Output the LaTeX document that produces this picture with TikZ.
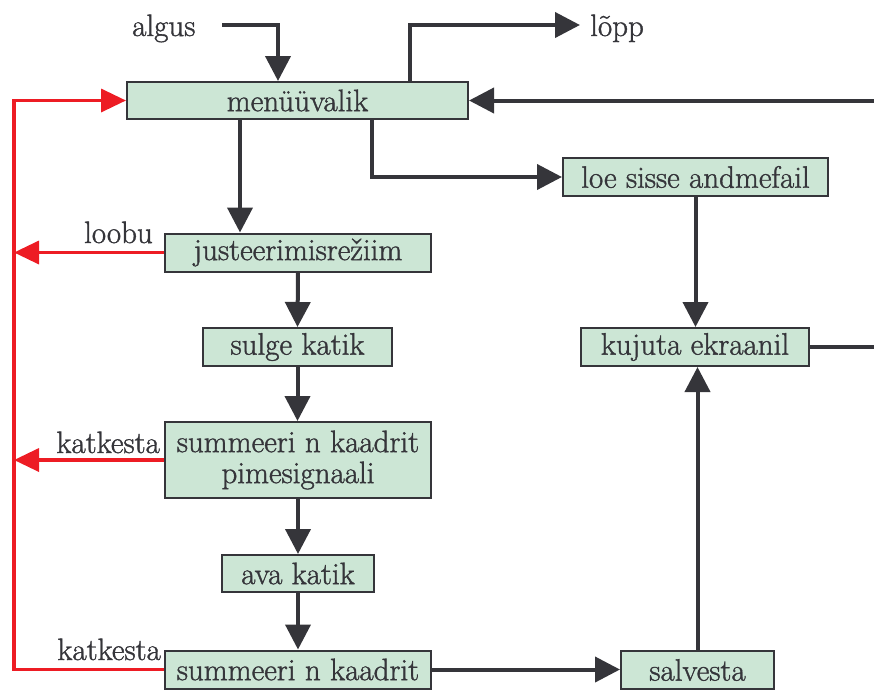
\documentclass[tikz,border=0pt]{standalone}
\usepackage{fontspec}
\setmainfont{Latin Modern Roman}[FakeBold=1.2]
\usetikzlibrary{arrows.meta}
\definecolor{boxfill}{HTML}{CCE6D5}
\definecolor{ink}{HTML}{35353A}
\definecolor{alarm}{HTML}{ED1C24}
\begin{document}
\begin{tikzpicture}[x=1pt,y=-1pt,
  stepbox/.style={draw=ink, line width=2pt, fill=boxfill, inner sep=0pt,
    text=ink, font=\fontsize{31}{31}\selectfont, align=center},
  flow/.style={draw=ink, line width=4pt, -{Triangle[length=25pt,width=25pt]}},
  plain/.style={draw=ink, line width=4pt},
  abort/.style={draw=alarm, line width=3.5pt, -{Triangle[length=25pt,width=23pt]}},
  lbl/.style={text=ink, font=\fontsize{31}{31}\selectfont, inner sep=0pt}]
\useasboundingbox (0,0) rectangle (874,689);

% process steps
\node[stepbox, minimum width=341pt, minimum height=37pt] (menu)  at (297.5,100.5) {menüüvalik};
\node[stepbox, minimum width=265pt, minimum height=38pt] (loe)   at (695.5,177)   {loe sisse andmefail};
\node[stepbox, minimum width=266pt, minimum height=38pt] (just)  at (298,252.5)   {justeerimisrežiim};
\node[stepbox, minimum width=189pt, minimum height=38pt] (sulge) at (297.5,347)   {sulge katik};
\node[stepbox, minimum width=266pt, minimum height=76pt] (sum1)  at (298,460)     {summeeri n kaadrit\\pimesignaali};
\node[stepbox, minimum width=152pt, minimum height=37pt] (ava)   at (298,573.5)   {ava katik};
\node[stepbox, minimum width=266pt, minimum height=38pt] (sum2)  at (298,669.5)   {summeeri n kaadrit};
\node[stepbox, minimum width=228pt, minimum height=38pt] (kuj)   at (695,347)     {kujuta ekraanil};
\node[stepbox, minimum width=153pt, minimum height=38pt] (salv)  at (697.5,670)   {salvesta};

% entry and exit labels
\node[lbl, anchor=base west] (algus) at (132,36) {algus};
\node[lbl, anchor=base west] (lopp)  at (590,36) {lõpp};
\node[lbl, anchor=base east] (loobu) at (153,243) {loobu};
\node[lbl, anchor=base east] (kat1)  at (160,453) {katkesta};
\node[lbl, anchor=base east] (kat2)  at (161,660) {katkesta};

% helper points
\coordinate (start)   at (222,25);
\coordinate (finish)  at (580,25);
\coordinate (rin)     at (874,100.5);
\coordinate (rout)    at (874,347);
\coordinate (railtop) at (14,100.5);
\coordinate (mIn)   at ([xshift=152pt]menu.north west);
\coordinate (mOut)  at ([xshift=284pt]menu.north west);
\coordinate (mJust) at ([xshift=114pt]menu.south west);
\coordinate (mLoe)  at ([xshift=246pt]menu.south west);

% main flow
\draw[flow] (start) -| (mIn);
\draw[flow] (mOut) |- (finish);
\draw[flow] (rin) -- (menu.east);
\draw[flow] (mJust) -- (mJust |- just.north);
\draw[flow] (mLoe) |- (loe.west);
\draw[flow] (loe.south) -- (loe.south |- kuj.north);
\draw[plain] (kuj.east) -- (rout);
\draw[flow] (just.south) -- (sulge.north);
\draw[flow] (sulge.south) -- (sulge.south |- sum1.north);
\draw[flow] (sum1.south) -- (ava.north);
\draw[flow] (ava.south) -- (sum2.north);
\draw[flow] (sum2.east) -- (sum2.east -| salv.west);
\draw[flow] (salv.north) -- (salv.north |- kuj.south);

% cancel paths back to the menu
\draw[abort] (sum2.west) -- (sum2.west -| railtop) -- (railtop) -- (menu.west);
\draw[abort] (just.west) -- (just.west -| railtop);
\draw[abort] (sum1.west) -- (sum1.west -| railtop);
\end{tikzpicture}
\end{document}
